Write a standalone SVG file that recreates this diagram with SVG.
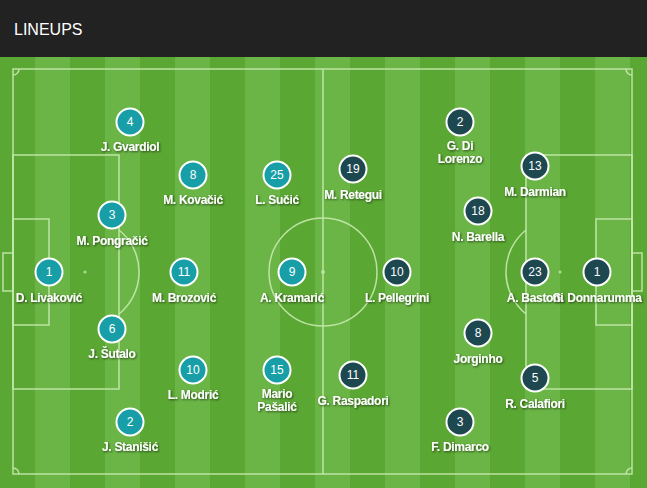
<svg xmlns="http://www.w3.org/2000/svg" width="647" height="488" viewBox="0 0 647 488">
<defs>
<pattern id="stripes" x="0" y="0" width="70" height="10" patternUnits="userSpaceOnUse">
<rect x="0" y="0" width="35" height="10" fill="#5ba733"/>
<rect x="35" y="0" width="35" height="10" fill="#6ab545"/>
</pattern>
<filter id="sh" x="-20%" y="-50%" width="140%" height="200%">
<feDropShadow dx="1" dy="1" stdDeviation="0.8" flood-color="#000" flood-opacity="0.6"/>
</filter>
</defs>
<style>
.hdr{font-family:"Liberation Sans",Arial,sans-serif;font-size:16px;fill:#fff}
.ln{fill:none;stroke:#c6e9ae;stroke-width:1.5;opacity:0.9}
.cro{fill:#189ea7;stroke:#fff;stroke-width:2}
.ita{fill:#1e4850;stroke:#fff;stroke-width:2}
.num{font-family:"Liberation Sans",Arial,sans-serif;font-size:12px;fill:#fff;text-anchor:middle}
.nm{font-family:"Liberation Sans",Arial,sans-serif;font-size:12px;font-weight:bold;letter-spacing:-0.3px;fill:#fff;text-anchor:middle;filter:url(#sh)}
</style>
<rect x="0" y="0" width="647" height="57" fill="#222222"/>
<text class="hdr" x="14" y="35">LINEUPS</text>
<rect x="0" y="57" width="647" height="431" fill="url(#stripes)"/>
<g id="pitch">
<rect class="ln" x="13" y="69" width="619" height="405"/>
<line class="ln" x1="323" y1="69" x2="323" y2="474"/>
<circle class="ln" cx="323" cy="272" r="54"/>
<circle cx="323" cy="272" r="2" fill="#c6e9ae" opacity="0.8"/>
<rect class="ln" x="13" y="155" width="106" height="234"/>
<rect class="ln" x="13" y="219" width="36" height="106"/>
<rect class="ln" x="3" y="253" width="10" height="38"/>
<circle cx="85" cy="272" r="1.5" fill="#c6e9ae" opacity="0.8"/>
<path class="ln" d="M119,230 A54,54 0 0 1 119,314"/>
<rect class="ln" x="526" y="155" width="106" height="234"/>
<rect class="ln" x="596" y="219" width="36" height="106"/>
<rect class="ln" x="632" y="253" width="10" height="38"/>
<circle cx="560" cy="272" r="1.5" fill="#c6e9ae" opacity="0.8"/>
<path class="ln" d="M526,230 A54,54 0 0 0 526,314"/>
<path class="ln" d="M19,69 A6,6 0 0 1 13,75"/>
<path class="ln" d="M632,75 A6,6 0 0 1 626,69"/>
<path class="ln" d="M13,468 A6,6 0 0 1 19,474"/>
<path class="ln" d="M626,474 A6,6 0 0 1 632,468"/>
</g>
<g id="connectors"></g>
<g id="cro-1"><circle class="cro" cx="49" cy="272" r="13.5"/><text class="num" x="49" y="276">1</text><text class="nm" x="49" y="302">D. Livaković</text></g>
<g id="cro-4"><circle class="cro" cx="130" cy="122" r="13.5"/><text class="num" x="130" y="126">4</text><text class="nm" x="130" y="151">J. Gvardiol</text></g>
<g id="cro-3"><circle class="cro" cx="112" cy="215" r="13.5"/><text class="num" x="112" y="219">3</text><text class="nm" x="112" y="245">M. Pongračić</text></g>
<g id="cro-6"><circle class="cro" cx="112" cy="329" r="13.5"/><text class="num" x="112" y="333">6</text><text class="nm" x="112" y="358">J. Šutalo</text></g>
<g id="cro-2"><circle class="cro" cx="130" cy="422" r="13.5"/><text class="num" x="130" y="426">2</text><text class="nm" x="130" y="451">J. Stanišić</text></g>
<g id="cro-8"><circle class="cro" cx="193" cy="175" r="13.5"/><text class="num" x="193" y="179">8</text><text class="nm" x="193" y="204">M. Kovačić</text></g>
<g id="cro-25"><circle class="cro" cx="277" cy="175" r="13.5"/><text class="num" x="277" y="179">25</text><text class="nm" x="277" y="204">L. Sučić</text></g>
<g id="cro-11"><circle class="cro" cx="184" cy="272" r="13.5"/><text class="num" x="184" y="276">11</text><text class="nm" x="184" y="302">M. Brozović</text></g>
<g id="cro-9"><circle class="cro" cx="292" cy="272" r="13.5"/><text class="num" x="292" y="276">9</text><text class="nm" x="292" y="302">A. Kramarić</text></g>
<g id="cro-10"><circle class="cro" cx="193" cy="370" r="13.5"/><text class="num" x="193" y="374">10</text><text class="nm" x="193" y="399">L. Modrić</text></g>
<g id="cro-15"><circle class="cro" cx="277" cy="370" r="13.5"/><text class="num" x="277" y="374">15</text><text class="nm" x="277" y="398">Mario</text><text class="nm" x="277" y="411">Pašalić</text></g>
<g id="ita-1"><circle class="ita" cx="597" cy="272" r="13.5"/><text class="num" x="597" y="276">1</text><text class="nm" x="597" y="302">G. Donnarumma</text></g>
<g id="ita-23"><circle class="ita" cx="535" cy="272" r="13.5"/><text class="num" x="535" y="276">23</text><text class="nm" x="535" y="302">A. Bastoni</text></g>
<g id="ita-13"><circle class="ita" cx="535" cy="166" r="13.5"/><text class="num" x="535" y="170">13</text><text class="nm" x="535" y="196">M. Darmian</text></g>
<g id="ita-5"><circle class="ita" cx="535" cy="378" r="13.5"/><text class="num" x="535" y="382">5</text><text class="nm" x="535" y="408">R. Calafiori</text></g>
<g id="ita-2"><circle class="ita" cx="460" cy="122" r="13.5"/><text class="num" x="460" y="126">2</text><text class="nm" x="460" y="150">G. Di</text><text class="nm" x="460" y="163">Lorenzo</text></g>
<g id="ita-3"><circle class="ita" cx="460" cy="422" r="13.5"/><text class="num" x="460" y="426">3</text><text class="nm" x="460" y="451">F. Dimarco</text></g>
<g id="ita-18"><circle class="ita" cx="478" cy="211" r="13.5"/><text class="num" x="478" y="215">18</text><text class="nm" x="478" y="241">N. Barella</text></g>
<g id="ita-8"><circle class="ita" cx="478" cy="333" r="13.5"/><text class="num" x="478" y="337">8</text><text class="nm" x="478" y="363">Jorginho</text></g>
<g id="ita-19"><circle class="ita" cx="353" cy="169" r="13.5"/><text class="num" x="353" y="173">19</text><text class="nm" x="353" y="199">M. Retegui</text></g>
<g id="ita-10"><circle class="ita" cx="397" cy="272" r="13.5"/><text class="num" x="397" y="276">10</text><text class="nm" x="397" y="302">L. Pellegrini</text></g>
<g id="ita-11"><circle class="ita" cx="353" cy="375" r="13.5"/><text class="num" x="353" y="379">11</text><text class="nm" x="353" y="405">G. Raspadori</text></g>
</svg>
